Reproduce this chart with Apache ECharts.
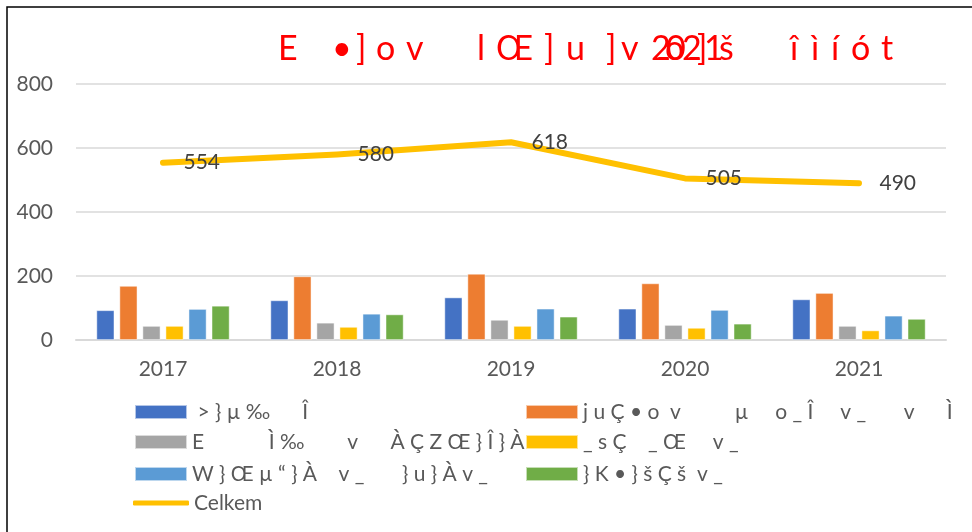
<!DOCTYPE html>
<html>
<head>
<meta charset="utf-8">
<script src="https://cdn.jsdelivr.net/npm/echarts@6/dist/echarts.min.js"></script>
<style>
  html, body { margin: 0; padding: 0; background: #fff; }
  #chart { width: 972px; height: 532px; }
</style>
</head>
<body>
<div id="chart"></div>
<script>
// Categories (years)
const years = ['2017', '2018', '2019', '2020', '2021'];

// Series names as they appear in the legend
const nameBlue = ' > } µ ‰      Î';
const nameOrange = 'j u Ç • o  v          µ     o _ Î     v _       v      Ì     Œ';
const nameGray = 'E            Ì ‰        v      À Ç Z Œ } Î } À';
const nameYellow = '_ s Ç    _ Œ     v _';
const nameLightBlue = 'W } Œ µ “ } À    v _       } u } À v _';
const nameGreen = '} K • } š Ç š  v _';
const nameTotal = 'Celkem';

// Values per year
const valuesBlue = [93, 124, 133, 98, 127];
const valuesOrange = [169, 199, 207, 177, 147];
const valuesGray = [44, 54, 63, 47, 44];
const valuesYellow = [44, 41, 44, 38, 30];
const valuesLightBlue = [97, 82, 98, 94, 76];
const valuesGreen = [107, 80, 73, 51, 66];
const valuesTotal = [554, 580, 618, 505, 490];

// Y axis ticks
const yTicks = [0, 200, 400, 600, 800];

// Title glyphs and the x offset of each
const titleGlyphs = [
  ['E', 278], ['•', 332], [']', 356], ['o', 376], ['v', 406],
  ['l', 477], ['Œ', 496], [']', 544], ['u', 566], [']', 606], ['v', 621],
  ['2', 651], ['0', 666], ['o', 665], ['2', 682], [']', 697], ['1', 704], ['š', 719],
  ['î', 790], ['ì', 811], ['í', 831], ['ó', 851], ['t', 881]
];

const FONT = 'Lato, "Open Sans", sans-serif';
const TEXT_GREY = '#595959';

const barSeries = [
  [nameBlue, valuesBlue, '#4472C4'],
  [nameOrange, valuesOrange, '#ED7D31'],
  [nameGray, valuesGray, '#A5A5A5'],
  [nameYellow, valuesYellow, '#FFC000'],
  [nameLightBlue, valuesLightBlue, '#5B9BD5'],
  [nameGreen, valuesGreen, '#70AD47']
].map(([name, data, color]) => ({
  name: name,
  type: 'bar',
  data: data,
  barWidth: 18,
  barGap: '28%',
  itemStyle: { color: color, borderColor: 'rgba(255,255,255,0.6)', borderWidth: 0.8 },
  z: 2
}));

const lineSeries = {
  name: nameTotal,
  type: 'line',
  data: valuesTotal,
  symbol: 'circle',
  symbolSize: 1,
  lineStyle: { color: '#FFC000', width: 6, cap: 'round', join: 'round' },
  itemStyle: { color: '#FFC000' },
  label: {
    show: true,
    position: 'right',
    distance: 20,
    fontFamily: FONT,
    fontSize: 21,
    color: '#404040'
  },
  z: 5
};

// One legend block per entry, laid out in two columns
function legendBlock(name, left, top, isLine) {
  return {
    data: [name],
    left: left,
    top: top,
    padding: 0,
    orient: 'horizontal',
    selectedMode: false,
    itemWidth: isLine ? 56 : 52,
    itemHeight: isLine ? 5 : 14,
    icon: isLine ? 'roundRect' : 'rect',
    itemGap: 0,
    textStyle: { fontFamily: FONT, fontSize: 21, color: TEXT_GREY, lineHeight: 22 }
  };
}

const option = {
  animation: false,
  backgroundColor: '#ffffff',
  grid: { left: 76, right: 26, top: 84, bottom: 192, containLabel: false },
  xAxis: {
    type: 'category',
    data: years,
    axisLine: { show: true, lineStyle: { color: '#d9d9d9', width: 2 } },
    axisTick: { show: false },
    axisLabel: { fontFamily: FONT, fontSize: 21, color: TEXT_GREY, margin: 19 }
  },
  yAxis: {
    type: 'value',
    min: yTicks[0],
    max: yTicks[yTicks.length - 1],
    interval: 200,
    axisLine: { show: false },
    axisTick: { show: false },
    axisLabel: { fontFamily: FONT, fontSize: 21, color: TEXT_GREY, margin: 23 },
    splitLine: { lineStyle: { color: '#d9d9d9', width: 1.5 } }
  },
  legend: [
    legendBlock(nameBlue, 134, 401, false),
    legendBlock(nameOrange, 525, 401, false),
    legendBlock(nameGray, 134, 431, false),
    legendBlock(nameYellow, 525, 431, false),
    legendBlock(nameLightBlue, 134, 463, false),
    legendBlock(nameGreen, 525, 463, false),
    legendBlock(nameTotal, 133, 492, true)
  ],
  graphic: [
    {
      type: 'rect',
      shape: { x: 7, y: 7, width: 1000, height: 600 },
      style: { fill: 'none', stroke: '#000', lineWidth: 1.5 },
      silent: true,
      z: 0
    }
  ].concat(titleGlyphs.map(([t, x]) => ({
    type: 'text',
    left: x,
    top: 32,
    style: { text: t, fontFamily: FONT, fontSize: 34, fill: '#FF0000' },
    silent: true
  }))),
  series: barSeries.concat([lineSeries])
};

const chart = echarts.init(document.getElementById('chart'), null, { renderer: 'canvas' });
chart.setOption(option);
</script>
</body>
</html>
